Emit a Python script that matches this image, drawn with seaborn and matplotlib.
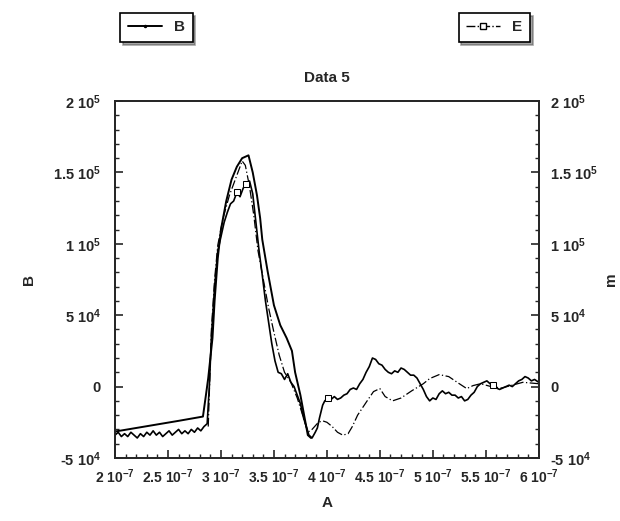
import matplotlib
matplotlib.use("Agg")
import matplotlib.pyplot as plt
import seaborn as sns
import numpy as np
from matplotlib.lines import Line2D
from matplotlib.ticker import FixedLocator, MultipleLocator

# smooth curve "B" (left axis), x in 1e-7, y in 1e4
b_x = [2.00, 2.20, 2.40, 2.60, 2.83, 2.86, 2.88, 2.90, 2.92, 2.94, 2.97, 3.00,
       3.05, 3.10, 3.15, 3.20, 3.26, 3.30, 3.34, 3.37, 3.39, 3.44, 3.50, 3.56,
       3.62, 3.67, 3.70, 3.75, 3.79, 3.82, 3.85]
b_y = [-3.15, -2.9, -2.65, -2.4, -2.1, -0.5, 0.6, 2.0, 3.4, 6.0, 9.0, 11.0,
       13.0, 14.5, 15.4, 16.0, 16.2, 15.0, 13.4, 11.8, 10.3, 8.1, 5.7, 4.3,
       3.4, 2.5, 1.0, -0.6, -2.2, -3.4, -3.6]

# noisy curve "E" (right axis)
e_x = [2.00, 2.03, 2.06, 2.09, 2.12, 2.15, 2.18, 2.21, 2.24, 2.27, 2.30, 2.33,
       2.36, 2.39, 2.42, 2.45, 2.48, 2.51, 2.54, 2.57, 2.60, 2.63, 2.66, 2.69,
       2.72, 2.75, 2.78, 2.81, 2.84, 2.87, 2.89, 2.91, 2.94, 2.97, 3.00, 3.03,
       3.06, 3.09, 3.12, 3.15, 3.18, 3.21, 3.24, 3.27, 3.30, 3.33, 3.36, 3.39,
       3.42, 3.45, 3.48, 3.51, 3.54, 3.57, 3.60, 3.63, 3.66, 3.69, 3.72, 3.75,
       3.78, 3.81, 3.83, 3.86, 3.89, 3.91, 3.93, 3.96, 3.98, 4.01, 4.04, 4.07,
       4.10, 4.13, 4.16, 4.19, 4.22, 4.25, 4.28, 4.31, 4.34, 4.37, 4.40, 4.43,
       4.46, 4.49, 4.52, 4.55, 4.58, 4.61, 4.64, 4.67, 4.70, 4.73, 4.76, 4.79,
       4.82, 4.85, 4.88, 4.91, 4.94, 4.97, 5.00, 5.03, 5.06, 5.09, 5.12, 5.15,
       5.18, 5.21, 5.24, 5.27, 5.30, 5.33, 5.36, 5.39, 5.42, 5.45, 5.48, 5.51,
       5.54, 5.57, 5.60, 5.63, 5.66, 5.69, 5.72, 5.75, 5.78, 5.81, 5.84, 5.87,
       5.90, 5.93, 5.96, 6.00]
e_y = [-3.4, -3.2, -3.5, -3.3, -3.5, -3.2, -3.4, -3.6, -3.3, -3.5, -3.2, -3.4,
       -3.1, -3.4, -3.2, -3.5, -3.3, -3.1, -3.4, -3.2, -3.0, -3.3, -3.1, -3.3,
       -3.0, -3.2, -2.9, -3.1, -2.8, -2.6, 0.0, 3.5, 7.0, 9.5, 10.5, 11.5,
       12.2, 12.8, 13.0, 13.6, 13.3, 13.9, 14.2, 14.4, 13.5, 11.5, 9.5, 7.8,
       6.0, 4.5, 3.0, 1.8, 1.0, 0.9, 0.5, 0.9, 0.3, 0.0, -0.6, -1.2,
       -2.2, -2.9, -3.4, -3.6, -3.2, -2.9, -2.2, -1.3, -1.0, -0.8, -0.9, -0.7,
       -0.9, -0.8, -0.6, -0.5, -0.2, -0.1, -0.2, 0.2, 0.5, 1.0, 1.4, 2.0,
       1.9, 1.6, 1.5, 1.2, 1.0, 0.9, 1.1, 1.0, 1.3, 1.2, 1.0, 0.8,
       0.8, 0.6, 0.2, -0.2, -0.7, -1.0, -0.8, -0.9, -0.5, -0.3, -0.5, -0.4,
       -0.6, -0.6, -0.8, -0.7, -1.0, -0.9, -0.6, -0.4, 0.0, 0.2, 0.3, 0.4,
       0.2, 0.1, -0.1, -0.2, -0.1, 0.0, 0.1, 0.0, 0.2, 0.4, 0.5, 0.7,
       0.6, 0.4, 0.5, 0.3]
e_square_x = [3.15, 3.24, 4.01, 5.57]

# thin dash-dot curve (left axis, not in legend)
f_x = [2.88, 2.91, 2.94, 2.97, 3.02, 3.08, 3.15, 3.20, 3.23, 3.27, 3.31, 3.35,
       3.40, 3.45, 3.50, 3.55, 3.60, 3.66, 3.72, 3.78, 3.82, 3.86, 3.92, 3.96,
       4.00, 4.05, 4.10, 4.15, 4.20, 4.24, 4.29, 4.38, 4.44, 4.50, 4.55, 4.62,
       4.70, 4.80, 4.91, 4.97, 5.06, 5.15, 5.25, 5.32, 5.38, 5.45, 5.55, 5.65,
       5.75, 5.85, 6.00]
f_y = [-2.8, 4.0, 7.5, 9.9, 11.8, 13.4, 14.8, 15.8, 15.5, 14.0, 12.0, 9.5,
       7.5, 5.5, 3.8, 2.2, 1.0, 0.3, -0.8, -2.2, -3.2, -3.0, -2.5, -2.4,
       -2.5, -2.8, -3.2, -3.4, -3.3, -2.8, -2.0, -1.0, -0.35, -0.14, -0.7, -1.0,
       -0.8, -0.3, 0.2, 0.56, 0.84, 0.7, 0.2, -0.14, 0.07, 0.2, 0.0, -0.1,
       0.1, 0.3, 0.2]

y_ticks = [-5e4, 0, 5e4, 1e5, 1.5e5, 2e5]
y_labels = ['-5 10$^4$', '0', '5 10$^4$', '1 10$^5$', '1.5 10$^5$', '2 10$^5$']
x_ticks = [2e-7, 2.5e-7, 3e-7, 3.5e-7, 4e-7, 4.5e-7, 5e-7, 5.5e-7, 6e-7]
x_labels = ['2 10$^{-7}$', '2.5 10$^{-7}$', '3 10$^{-7}$', '3.5 10$^{-7}$',
            '4 10$^{-7}$', '4.5 10$^{-7}$', '5 10$^{-7}$', '5.5 10$^{-7}$',
            '6 10$^{-7}$']

sns.set_style('ticks')
plt.rcParams['font.family'] = ['Liberation Sans', 'DejaVu Sans']
plt.rcParams['mathtext.default'] = 'regular'
plt.rcParams['font.weight'] = 'bold'

fig = plt.figure(figsize=(6.2, 5.21), dpi=100)
ax = fig.add_axes([0.1855, 0.121, 0.6835, 0.685])
ax2 = ax.twinx()

bx = np.array(b_x) * 1e-7
by = np.array(b_y) * 1e4
ex = np.array(e_x) * 1e-7
ey = np.array(e_y) * 1e4
fx = np.array(f_x) * 1e-7
fy = np.array(f_y) * 1e4

sns.lineplot(x=fx, y=fy, ax=ax, color='black', linewidth=0.9,
             linestyle=(0, (7, 2, 1, 2)), sort=False)
sns.lineplot(x=bx, y=by, ax=ax, color='black', linewidth=1.4, sort=False)
sq_idx = [e_x.index(v) for v in e_square_x]
sns.lineplot(x=ex, y=ey, ax=ax2, color='black', linewidth=1.2, sort=False,
             marker='s', markersize=5, markerfacecolor='white',
             markeredgecolor='black', markevery=sq_idx)

for a in (ax, ax2):
    a.set_ylim(-5e4, 2e5)
    a.set_xlim(2e-7, 6e-7)
    a.yaxis.set_major_locator(FixedLocator(y_ticks))
    a.yaxis.set_minor_locator(MultipleLocator(1e4))
    a.set_yticklabels(y_labels, fontsize=10.5, fontweight='bold')
    a.tick_params(which='major', direction='in', length=6, width=1.2)
    a.tick_params(which='minor', direction='in', length=3, width=1)

ax.xaxis.set_major_locator(FixedLocator(x_ticks))
ax.xaxis.set_minor_locator(MultipleLocator(1e-8))
ax.set_xticklabels(x_labels, fontsize=10, fontweight='bold')
ax.tick_params(axis='x', which='major', pad=7)
ax.tick_params(axis='y', which='major', pad=10)
ax2.tick_params(axis='y', which='major', pad=8)

for a in (ax, ax2):
    for s in a.spines.values():
        s.set_linewidth(1.3)
        s.set_visible(True)

ax.set_title('Data 5', fontsize=11, fontweight='bold', pad=14)
ax.set_xlabel('A', fontsize=11, fontweight='bold', labelpad=7)
ax.set_ylabel('B', fontsize=11, fontweight='bold', labelpad=12)
ax2.set_ylabel('m', fontsize=11, fontweight='bold', labelpad=4, rotation=90)

h_b = Line2D([], [], color='black', linewidth=1.4, marker='.', markersize=3)
h_e = Line2D([], [], color='black', linewidth=1.0, linestyle='-.',
             marker='s', markersize=5, markerfacecolor='white')
leg_kw = dict(frameon=True, fancybox=False, shadow=True, fontsize=11,
              handlelength=2.2, borderpad=0.5, edgecolor='black')
lb = fig.legend([h_b], ['B'], loc='upper left',
                bbox_to_anchor=(0.182, 0.99), **leg_kw)
le = fig.legend([h_e], ['E'], loc='upper right',
                bbox_to_anchor=(0.867, 0.99), **leg_kw)
for lg in (lb, le):
    lg.get_frame().set_linewidth(1.2)

fig.savefig('out.png', dpi=100)
